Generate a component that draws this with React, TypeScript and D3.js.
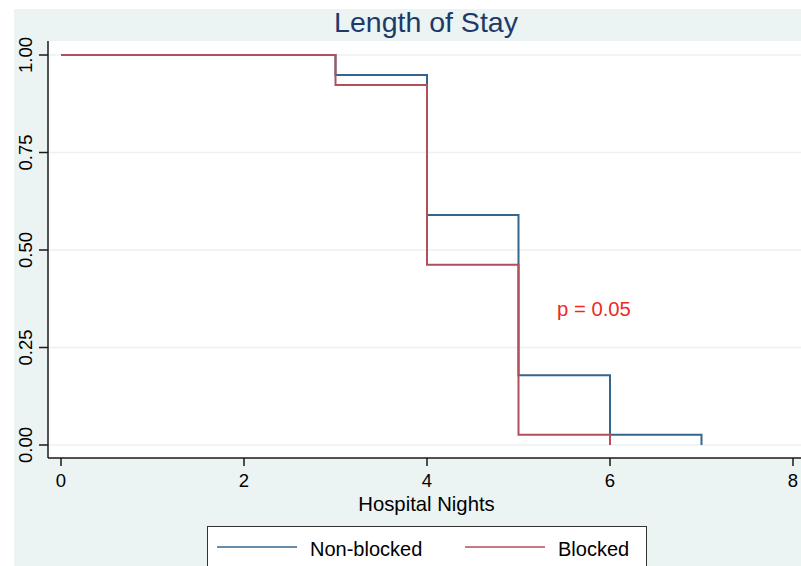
import React from "react";
import * as d3 from "d3";

// Kaplan-Meier step values: time and survival after each step
const nonBlockedTimes = [0, 3, 4, 5, 6, 7];
const nonBlockedSurv = [1.0, 0.949, 0.59, 0.179, 0.026, 0.0];
const blockedTimes = [0, 3, 4, 5, 6];
const blockedSurv = [1.0, 0.923, 0.462, 0.026, 0.0];

const xTicks = [0, 2, 4, 6, 8];
const yTicks = [0, 0.25, 0.5, 0.75, 1];

const seriesNames = ["Non-blocked", "Blocked"];
const blue = "#35668f";
const red = "#b24f58";
const font = "'Liberation Sans', Arial, Helvetica, sans-serif";

export default function App() {
  const width = 801;
  const height = 566;
  const plotLeft = 48;
  const plotTop = 41;
  const plotBottom = 458;

  const x = d3.scaleLinear().domain([0, 8]).range([61, 793]);
  const y = d3.scaleLinear().domain([0, 1]).range([445, 55]);

  const toPoints = (times: number[], surv: number[]) =>
    times.map((t, i) => [t, surv[i]] as [number, number]);

  const step = d3
    .line<[number, number]>()
    .x((d) => x(d[0]))
    .y((d) => y(d[1]))
    .curve(d3.curveStepAfter);

  const nb = toPoints(nonBlockedTimes, nonBlockedSurv);
  const bl = toPoints(blockedTimes, blockedSurv);

  return (
    <svg
      width={width}
      height={height}
      style={{ position: "absolute", left: 0, top: 0, display: "block" }}
      fontFamily={font}
    >
      <rect x={0} y={0} width={width} height={height} fill="#ffffff" />
      <rect x={14} y={9} width={width - 14} height={height - 9} fill="#ebf3f3" />
      <rect
        x={plotLeft}
        y={plotTop}
        width={width - plotLeft}
        height={plotBottom - plotTop}
        fill="#ffffff"
      />

      {/* gridlines */}
      <g stroke="#eaf1f1" strokeWidth={1.5}>
        {yTicks.map((t) => (
          <line key={t} x1={plotLeft} x2={width} y1={y(t)} y2={y(t)} />
        ))}
      </g>

      {/* curves */}
      <path d={step(nb) ?? ""} fill="none" stroke={blue} strokeWidth={2} />
      <path d={step(bl) ?? ""} fill="none" stroke={red} strokeWidth={2} />

      {/* axes */}
      <g stroke="#1a1a1a" strokeWidth={1.5}>
        <line x1={plotLeft} x2={plotLeft} y1={plotTop} y2={plotBottom} />
        <line x1={plotLeft} x2={width} y1={plotBottom} y2={plotBottom} />
        {yTicks.map((t) => (
          <line key={"yt" + t} x1={39} x2={plotLeft} y1={y(t)} y2={y(t)} />
        ))}
        {xTicks.map((t) => (
          <line key={"xt" + t} x1={x(t)} x2={x(t)} y1={plotBottom} y2={466} />
        ))}
      </g>
      <g fontSize={18.5} fill="#000">
        {xTicks.map((t) => (
          <text key={"xl" + t} x={x(t)} y={487} textAnchor="middle">
            {t}
          </text>
        ))}
        {yTicks.map((t) => (
          <text
            key={"yl" + t}
            transform={`translate(32, ${y(t)}) rotate(-90)`}
            textAnchor="middle"
          >
            {d3.format(".2f")(t)}
          </text>
        ))}
      </g>

      <text x={426.5} y={510.5} textAnchor="middle" fontSize={20.3} fill="#000">
        Hospital Nights
      </text>

      <text x={426} y={32} textAnchor="middle" fontSize={28.5} fill="#1e3a6a">
        Length of Stay
      </text>

      <text x={557} y={316} fontSize={20.3} fill="#ee2a1f">
        p = 0.05
      </text>

      {/* legend */}
      <rect x={207.5} y={526.5} width={439} height={40} fill="#ffffff" stroke="#333" strokeWidth={1} />
      <line x1={217} x2={297} y1={547} y2={547} stroke={blue} strokeWidth={1.3} />
      <text x={310} y={556} fontSize={20} fill="#000">
        {seriesNames[0]}
      </text>
      <line x1={465} x2={545} y1={547} y2={547} stroke={red} strokeWidth={1.3} />
      <text x={558} y={556} fontSize={20} fill="#000">
        {seriesNames[1]}
      </text>
    </svg>
  );
}
